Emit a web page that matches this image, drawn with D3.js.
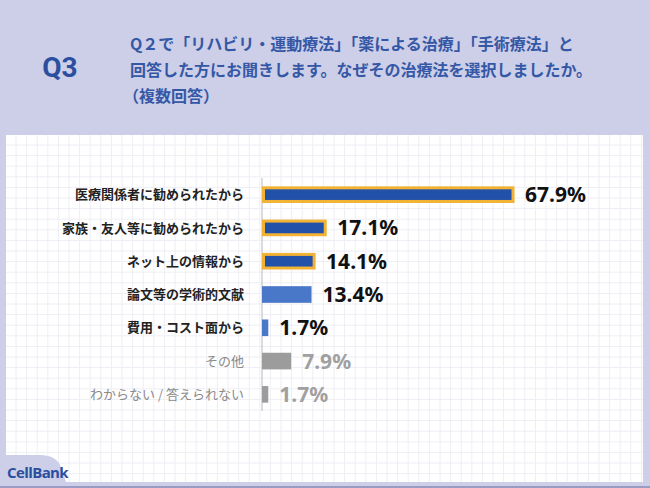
<!DOCTYPE html>
<html><head><meta charset="utf-8">
<script src="https://cdn.jsdelivr.net/npm/d3@7"></script>
<style>body{margin:0;background:#cdcee8;}svg{display:block;}</style>
</head><body>
<svg id="c" width="650" height="488"></svg>
<script>
const categories = ["医療関係者に勧められたから","家族・友人等に勧められたから","ネット上の情報から","論文等の学術的文献","費用・コスト面から","その他","わからない / 答えられない"];
const values = [67.9, 17.1, 14.1, 13.4, 1.7, 7.9, 1.7];
const labels = ["67.9%","17.1%","14.1%","13.4%","1.7%","7.9%","1.7%"];
const kinds = ["top","top","top","mid","mid","other","other"];

const svg = d3.select("#c");
const F = "'Noto Sans CJK JP','Noto Sans',sans-serif";
svg.append("rect").attr("width",650).attr("height",488).attr("fill","#cdcee8");
// header
svg.append("text").attr("x",60).attr("y",77).attr("text-anchor","middle").attr("font-family","Roboto,'Noto Sans',sans-serif").attr("font-weight",700).attr("font-size",28).attr("fill","#2b4f9f").text("Q3");
const qlines = ["Q２で「リハビリ・運動療法」「薬による治療」「手術療法」と","回答した方にお聞きします。なぜその治療法を選択しましたか。","（複数回答）"];
svg.append("g").selectAll("text").data(qlines).join("text")
  .attr("x",(d,i)=>i==2?123:130).attr("y",(d,i)=>50+i*26).attr("font-family",F).attr("font-weight",700).attr("font-size",16).attr("fill","#3558a6").text(d=>d);

// panel
svg.append("rect").attr("x",6).attr("y",135).attr("width",637).attr("height",347).attr("fill","#ffffff");
const grid = svg.append("g");
for(let x=16;x<643;x+=10.6) grid.append("line").attr("x1",x).attr("x2",x).attr("y1",135).attr("y2",482).attr("stroke","#eeeef5").attr("stroke-width",1);
for(let y=145;y<482;y+=10.6) grid.append("line").attr("x1",6).attr("x2",643).attr("y1",y).attr("y2",y).attr("stroke","#eeeef5").attr("stroke-width",1);

const x = d3.scaleLinear().domain([0,67.9]).range([262,513]);
const y = d3.scaleBand().domain(categories).range([178,411]).paddingInner(0.5).paddingOuter(0.25);
const g = svg.append("g");
g.append("line").attr("x1",262).attr("x2",262).attr("y1",178).attr("y2",411).attr("stroke","#b8b8c0").attr("stroke-width",1);
const fill = {top:"#2251aa",mid:"#4a78c9",other:"#9c9c9c"};
categories.forEach((c,i)=>{
  const k = kinds[i], yy = y(c), h = y.bandwidth();
  if(k==="top"){
    g.append("rect").attr("x",x(0)+1.5).attr("y",yy+1.5).attr("width",x(values[i])-x(0)-1.5).attr("height",h-3)
      .attr("fill",fill[k]).attr("stroke","#f2b233").attr("stroke-width",3);
  } else {
    g.append("rect").attr("x",x(0)).attr("y",yy).attr("width",x(values[i])-x(0)).attr("height",h).attr("fill",fill[k]);
  }
  g.append("text").attr("x",x(values[i])+ (k==="top"?12:11)).attr("y",yy+h/2).attr("dy","0.36em")
    .attr("font-family","'Noto Sans',Roboto,sans-serif").attr("font-weight",700).attr("font-size",21)
    .attr("fill",k==="other"?"#a0a0a0":"#111").text(labels[i]);
  g.append("text").attr("x",244).attr("y",yy+h/2).attr("dy","0.36em").attr("text-anchor","end")
    .attr("font-family",F).attr("font-weight",k==="other"?400:700).attr("font-size",13)
    .attr("fill",k==="other"?"#8a8a8a":"#222").text(c);
});

// footer tab
svg.append("path").attr("d","M6,482 L6,455 L40,455 Q58,455 62,470 L66,482 Z").attr("fill","#cdcee8");
svg.append("rect").attr("x",0).attr("y",482).attr("width",650).attr("height",6).attr("fill","#cdcee8");
svg.append("rect").attr("x",0).attr("y",486).attr("width",650).attr("height",2).attr("fill","#9a9cc4");
svg.append("text").attr("x",7).attr("y",478).attr("font-family","'Open Sans','Noto Sans',sans-serif").attr("font-weight",700).attr("font-size",15).attr("letter-spacing",-0.6).attr("fill","#2b4f9f").text("CellBank");
</script>
</body></html>
